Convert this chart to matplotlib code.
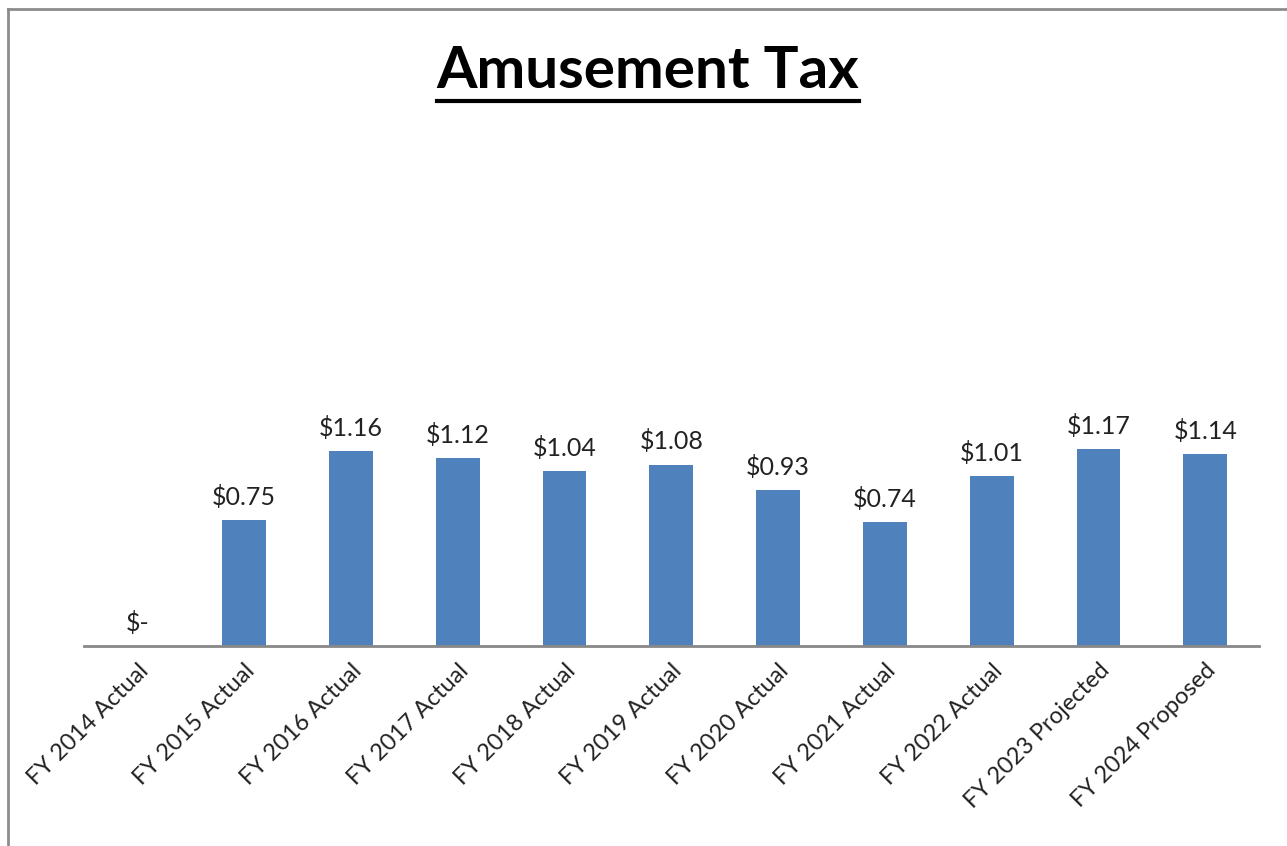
import matplotlib.pyplot as plt
from matplotlib.lines import Line2D

categories = ["FY 2014 Actual", "FY 2015 Actual", "FY 2016 Actual", "FY 2017 Actual",
              "FY 2018 Actual", "FY 2019 Actual", "FY 2020 Actual", "FY 2021 Actual",
              "FY 2022 Actual", "FY 2023 Projected", "FY 2024 Proposed"]
values = [0.0, 0.75, 1.16, 1.12, 1.04, 1.08, 0.93, 0.74, 1.01, 1.17, 1.14]

plt.rcParams['font.family'] = ['Lato', 'DejaVu Sans']

fig = plt.figure(figsize=(12.87, 8.46), dpi=100)
ax = fig.add_axes([0.0653, 0.2364, 0.9127, 0.5957])

x = list(range(len(categories)))
bars = ax.bar(x, values, width=0.41, color='#4F81BD')

for xi, v in zip(x, values):
    label = "$-" if v == 0 else "${:.2f}".format(v)
    ax.annotate(label, (xi, v), xytext=(0, 8), textcoords='offset points',
                ha='center', va='bottom', fontsize=18, color='#222222')

ax.set_xlim(-0.5, len(categories) - 0.5)
ax.set_ylim(0, 3.0)
ax.set_yticks([])
ax.set_xticks(x)
ax.set_xticklabels(categories, rotation=45, ha='right', rotation_mode='anchor',
                   fontsize=17, color='#222222')
ax.tick_params(axis='x', length=0, pad=10)
for s in ['top', 'right', 'left']:
    ax.spines[s].set_visible(False)
ax.spines['bottom'].set_color('#888888')
ax.spines['bottom'].set_linewidth(2)

# title with underline
t = fig.text(0.5035, 0.915, "Amusement Tax", ha='center', va='center',
             fontsize=42, fontweight='bold', color='black')
fig.canvas.draw()
bb = t.get_window_extent().transformed(fig.transFigure.inverted())
fig.add_artist(Line2D([bb.x0, bb.x1], [bb.y0 - 0.003, bb.y0 - 0.003],
                      transform=fig.transFigure, color='black', linewidth=3))

# outer border (top and left edges visible)
fig.add_artist(Line2D([0.0062, 1.0], [0.9894, 0.9894], transform=fig.transFigure,
                      color='#8c8c8c', linewidth=2))
fig.add_artist(Line2D([0.0062, 0.0062], [0.0, 0.9894], transform=fig.transFigure,
                      color='#8c8c8c', linewidth=2))

fig.savefig("out.png", dpi=100)
